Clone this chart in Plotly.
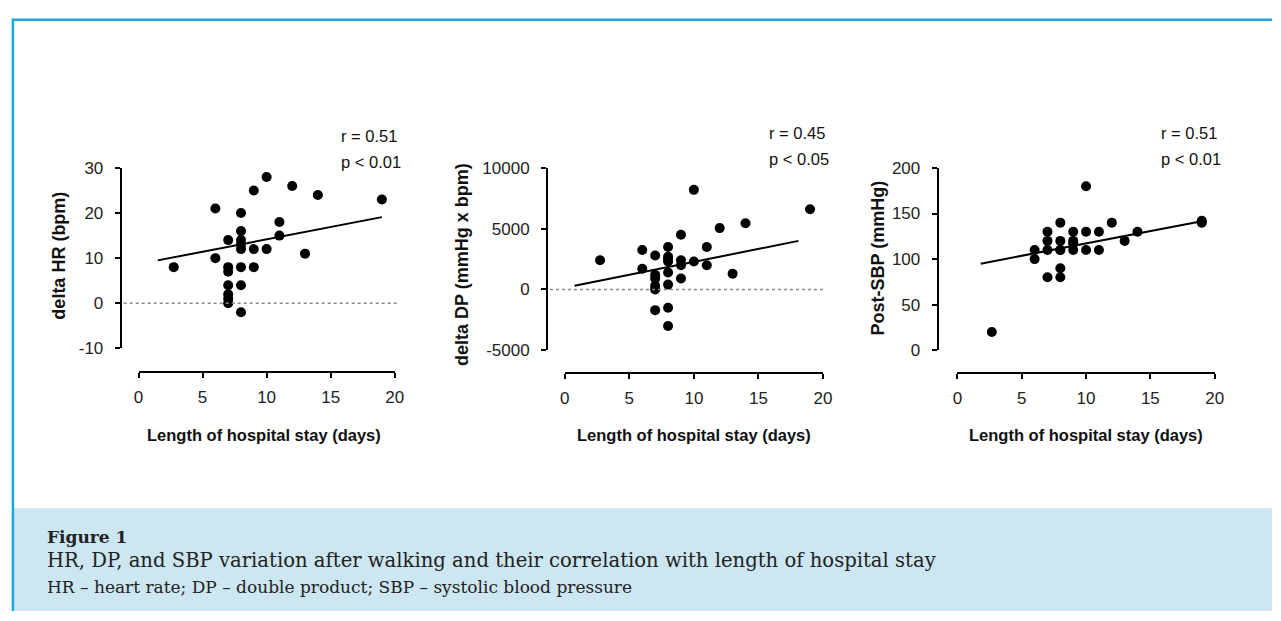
import plotly.graph_objects as go

W, H = 1281, 621

# ---------------- data ----------------
stay_hr = [2.75, 6, 6, 7, 7, 7, 7, 7, 7, 7, 8, 8, 8, 8, 8, 8, 8, 8,
           9, 9, 9, 10, 10, 11, 11, 12, 13, 14, 19]
delta_hr = [8, 21, 10, 14, 8, 7, 4, 2, 1, 0, 20, 16, 14, 13, 12, 8, 4, -2,
            25, 12, 8, 28, 12, 18, 15, 26, 11, 24, 23]
fit_hr_x = [1.5, 19]
fit_hr_y = [9.5, 19.1]

stay_dp = [2.73, 6, 6, 7, 7, 7, 7, 7, 7, 8, 8, 8, 8, 8, 8, 8, 8,
           9, 9, 9, 9, 10, 10, 11, 11, 12, 13, 14, 19]
delta_dp = [2400, 3250, 1700, 2800, 1200, 900, 300, 0, -1700,
            3500, 2700, 2500, 2300, 1400, 400, -1500, -3000,
            4500, 2400, 2000, 900, 8200, 2300, 3500, 2000, 5050, 1300, 5450, 6600]
fit_dp_x = [0.75, 18.1]
fit_dp_y = [300, 4000]

stay_sbp = [2.67, 6, 6, 7, 7, 7, 7, 8, 8, 8, 8, 8, 8, 9, 9, 9, 9,
            10, 10, 10, 11, 11, 12, 13, 14, 19, 19]
post_sbp = [20, 110, 100, 130, 120, 110, 80, 140, 120, 110, 110, 90, 80,
            130, 120, 117, 110, 180, 130, 110, 130, 110, 140, 120, 130, 140, 142]
fit_sbp_x = [1.8, 19.2]
fit_sbp_y = [95, 142]

x_ticks = [0, 5, 10, 15, 20]
hr_ticks = [-10, 0, 10, 20, 30]
dp_ticks = [-5000, 0, 5000, 10000]
dp_labels = ["-5000", "0", "5000", "10000"]
sbp_ticks = [0, 50, 100, 150, 200]

y_titles = ["delta HR (bpm)", "delta DP (mmHg x bpm)", "Post-SBP (mmHg)"]
x_title = "Length of hospital stay (days)"
stats = [("r = 0.51", "p < 0.01"), ("r = 0.45", "p < 0.05"), ("r = 0.51", "p < 0.01")]
caption_title = "Figure 1"
caption_line1 = "HR, DP, and SBP variation after walking and their correlation with length of hospital stay"
caption_line2 = "HR – heart rate; DP – double product; SBP – systolic blood pressure"

# ---------------- helpers ----------------
def px(x):
    return x / W

def py(y):
    return 1 - y / H

FONT = "Liberation Sans, Arial, sans-serif"
TICKCOL = "#222222"

fig = go.Figure()

panels = [
    dict(xs=stay_hr, ys=delta_hr, fx=fit_hr_x, fy=fit_hr_y, suffix="",
         xdom=(135, 394), ydom=(164, 350), yaxpos=117, xaxpos=374,
         yrange=[-10, 30], yticks=hr_ticks, ylabels=None, zero=True,
         ytitle_pos=(55, 254), xtitle_pos=(262, 439), stat_pos=(338, 131)),
    dict(xs=stay_dp, ys=delta_dp, fx=fit_dp_x, fy=fit_dp_y, suffix="2",
         xdom=(566, 827), ydom=(164, 352), yaxpos=548, xaxpos=375,
         yrange=[-5000, 10000], yticks=dp_ticks, ylabels=dp_labels, zero=True,
         ytitle_pos=(462, 263), xtitle_pos=(697, 439), stat_pos=(770, 128)),
    dict(xs=stay_sbp, ys=post_sbp, fx=fit_sbp_x, fy=fit_sbp_y, suffix="3",
         xdom=(963, 1223), ydom=(164, 352), yaxpos=943, xaxpos=375,
         yrange=[0, 200], yticks=sbp_ticks, ylabels=None, zero=False,
         ytitle_pos=(883, 257), xtitle_pos=(1093, 439), stat_pos=(1167, 128)),
]

annotations = []
shapes = []

for i, p in enumerate(panels):
    xa = "x" + p["suffix"]
    ya = "y" + p["suffix"]
    fig.add_trace(go.Scatter(
        x=p["fx"], y=p["fy"], mode="lines", xaxis=xa, yaxis=ya,
        line=dict(color="black", width=2), showlegend=False, hoverinfo="skip"))
    fig.add_trace(go.Scatter(
        x=p["xs"], y=p["ys"], mode="markers", xaxis=xa, yaxis=ya,
        marker=dict(color="black", size=10, line=dict(width=0)),
        cliponaxis=False, showlegend=False))

    xkey = "xaxis" + p["suffix"]
    ykey = "yaxis" + p["suffix"]
    axis_common = dict(
        showgrid=False, zeroline=False, showline=True, linecolor="black",
        linewidth=2, ticks="outside", ticklen=5, tickwidth=2, tickcolor="black",
        tickfont=dict(family=FONT, size=17, color=TICKCOL), fixedrange=True,
    )
    fig.update_layout(**{
        xkey: dict(
            domain=[px(p["xdom"][0]), px(p["xdom"][1])], range=[0, 20],
            anchor="free", position=py(p["xaxpos"]),
            tickvals=x_ticks, ticklabelstandoff=5, **axis_common),
        ykey: dict(
            domain=[py(p["ydom"][1]), py(p["ydom"][0])], range=p["yrange"],
            anchor="free", position=px(p["yaxpos"]),
            tickvals=p["yticks"],
            ticktext=p["ylabels"] if p["ylabels"] else [str(v) for v in p["yticks"]],
            ticklabelstandoff=8, **axis_common),
    })

    if p["zero"]:
        shapes.append(dict(
            type="line", xref=xa + " domain", yref=ya,
            x0=(p["yaxpos"] + 3 - p["xdom"][0]) / (p["xdom"][1] - p["xdom"][0]), x1=1.01,
            y0=0, y1=0, line=dict(color="#8a8a8a", width=1.6, dash="dot")))

    annotations.append(dict(
        text="<b>" + y_titles[i] + "</b>", xref="paper", yref="paper",
        x=px(p["ytitle_pos"][0]), y=py(p["ytitle_pos"][1]),
        xanchor="center", yanchor="middle", textangle=-90, showarrow=False,
        font=dict(family=FONT, size=18, color="#111111")))
    annotations.append(dict(
        text="<b>" + x_title + "</b>", xref="paper", yref="paper",
        x=px(p["xtitle_pos"][0]), y=py(p["xtitle_pos"][1]),
        xanchor="center", yanchor="middle", showarrow=False,
        font=dict(family=FONT, size=16.5, color="#111111")))
    sx, sy = p["stat_pos"]
    annotations.append(dict(
        text=stats[i][0], xref="paper", yref="paper", x=px(sx), y=py(sy),
        xanchor="left", yanchor="middle", showarrow=False,
        font=dict(family=FONT, size=16.5, color="#111111")))
    annotations.append(dict(
        text=stats[i][1], xref="paper", yref="paper", x=px(sx), y=py(sy + 27),
        xanchor="left", yanchor="middle", showarrow=False,
        font=dict(family=FONT, size=16.5, color="#111111")))

# frame and caption box
BLUE = "#1ba8dc"
shapes.append(dict(type="rect", xref="paper", yref="paper",
                   x0=px(9), x1=1.0, y0=0, y1=py(515),
                   fillcolor="#cce6f2", line=dict(width=0), layer="below"))
shapes.append(dict(type="line", xref="paper", yref="paper",
                   x0=px(7), x1=1.0, y0=py(11), y1=py(11),
                   line=dict(color=BLUE, width=2.5)))
shapes.append(dict(type="line", xref="paper", yref="paper",
                   x0=px(8), x1=px(8), y0=py(10), y1=0,
                   line=dict(color=BLUE, width=2.5)))

SERIF = "DejaVu Serif, serif"
annotations.append(dict(
    text="<b>" + caption_title + "</b>", xref="paper", yref="paper",
    x=px(40), y=py(545), xanchor="left", yanchor="middle", showarrow=False,
    font=dict(family=SERIF, size=17, color="#222222")))
annotations.append(dict(
    text=caption_line1, xref="paper", yref="paper",
    x=px(40), y=py(569), xanchor="left", yanchor="middle", showarrow=False,
    font=dict(family=SERIF, size=19.6, color="#222222")))
annotations.append(dict(
    text=caption_line2, xref="paper", yref="paper",
    x=px(40), y=py(596), xanchor="left", yanchor="middle", showarrow=False,
    font=dict(family=SERIF, size=17, color="#222222")))

fig.update_layout(
    autosize=True, margin=dict(l=0, r=0, t=0, b=0),
    paper_bgcolor="white", plot_bgcolor="rgba(0,0,0,0)",
    showlegend=False, annotations=annotations, shapes=shapes,
)

fig.write_html(
    "out.html",
    config={"displayModeBar": False, "responsive": True},
    default_width="100vw",
    default_height="100vh",
    post_script=(
        "document.documentElement.style.margin='0';"
        "document.documentElement.style.overflow='hidden';"
        "document.body.style.margin='0';document.body.style.padding='0';"
        "document.body.style.overflow='hidden';"
        "Plotly.Plots.resize(document.getElementById('{plot_id}'));"
    ),
)
